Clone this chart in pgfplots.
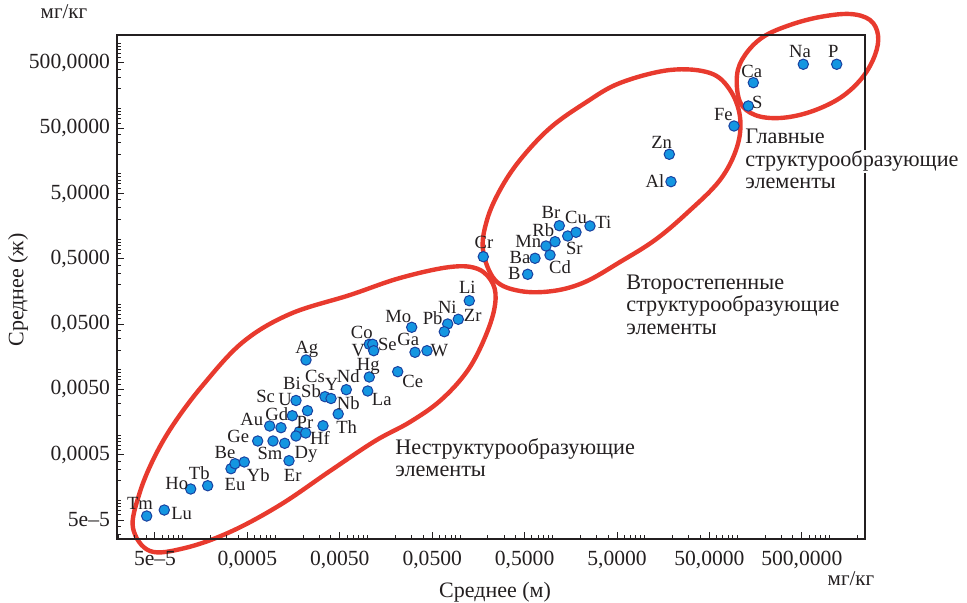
\documentclass[border=0pt]{standalone}
\usepackage{fontspec}
\setmainfont{Liberation Serif}
\usepackage{pgfplots}
\pgfplotsset{compat=1.18}
\definecolor{ered}{RGB}{232,58,46}
\definecolor{dotfill}{RGB}{20,150,225}
\definecolor{dotedge}{RGB}{25,65,160}
\definecolor{txt}{RGB}{35,31,32}

\pgfplotstableread{
el x y
Tm 4.066e-5 5.757e-5
Lu 6.30e-5 7.11e-5
Ho 1.217e-4 1.492e-4
Tb 1.859e-4 1.676e-4
Eu 3.323e-4 3.052e-4
Be 3.671e-4 3.641e-4
Yb 4.629e-4 3.866e-4
Ge 6.464e-4 8.107e-4
Sm 9.465e-4 8.107e-4
Dy 1.267e-3 7.473e-4
Er 1.410e-3 4.047e-4
Au 8.715e-4 1.375e-3
Gd 1.155e-3 1.296e-3
Sc 1.531e-3 1.978e-3
U 1.679e-3 3.381e-3
Sb 2.236e-3 2.359e-3
Pr 1.822e-3 1.125e-3
Hf 2.138e-3 1.075e-3
Bi 1.679e-3 9.670e-4
Ag 2.154e-3 1.410e-2
Th 3.290e-3 1.390e-3
Cs 3.458e-3 3.866e-3
Y 4.017e-3 3.627e-3
Nb 4.805e-3 2.101e-3
Nd 5.879e-3 4.948e-3
La 1.002e-2 4.726e-3
Hg 1.043e-2 7.743e-3
Co 1.043e-2 2.453e-2
Se 1.135e-2 2.453e-2
V 1.164e-2 1.957e-2
Ce 2.117e-2 9.333e-3
Mo 3.000e-2 4.467e-2
Ga 3.258e-2 1.850e-2
W 4.391e-2 1.957e-2
Pb 7.356e-2 5.018e-2
Ni 6.760e-2 3.825e-2
Zr 9.583e-2 5.923e-2
Li 0.1260 0.1141
Cr 0.1786 0.5385
B 0.5401 0.2894
Ba 0.6480 0.5090
Mn 0.8522 0.7852
Rb 1.067 0.9139
Cd 0.9417 0.5717
Br 1.187 1.607
Sr 1.464 1.117
Cu 1.800 1.273
Ti 2.551 1.590
Zn 18.41 19.92
Al 19.20 7.58
Fe 92.3 54.0
S 131.8 109.4
Ca 149.3 248.8
Na 519 476
P 1193 476
}\elements

\begin{document}
\begin{tikzpicture}
% ellipses (pixel coordinates)
\begin{scope}[x=0.5pt,y=-0.5pt,line width=2.2pt,ered]
\draw plot[smooth cycle,tension=0.6] coordinates {(133,528) (139,495) (153,460) (173,425) (203,385) (243,342) (290,314) (350,295) (400,278) (450,267) (478,269) (493,284) (495,305) (486,335) (468,370) (441,400) (410,422) (375,441) (330,471) (280,505) (230,532) (185,548) (150,551)};
\draw plot[smooth cycle,tension=0.6] coordinates {(483,250) (487,220) (500,190) (520,160) (550,128) (585,103) (620,83) (670,70) (710,73) (730,90) (740,117) (737,147) (720,180) (687,213) (655,240) (620,262) (585,282) (553,291) (520,291) (495,280)};
\draw plot[smooth cycle,tension=0.6] coordinates {(737,75) (745,55) (763,37) (790,25) (820,17) (850,14) (870,20) (878,35) (875,55) (862,78) (840,98) (810,112) (780,118) (755,115) (740,102)};
\end{scope}

\begin{axis}[
  at={(58.5pt,-269.5pt)}, anchor=south west,
  scale only axis, width=374pt, height=252pt,
  xmode=log, ymode=log,
  xmin=1.94e-5, xmax=2415, ymin=2.559e-5, ymax=1336,
  axis line style={line width=0.9pt, color=txt},
  tick align=inside, xtick pos=bottom, ytick pos=left,
  major tick length=3.5pt, minor tick length=2pt,
  tick style={line width=0.5pt, color=txt},
  every tick/.style={line width=0.5pt, color=txt},
  xtick={5e-5,5e-4,5e-3,5e-2,0.5,5,50,500},
  ytick={5e-5,5e-4,5e-3,5e-2,0.5,5,50,500},
  xticklabels={\textrm{5e–5},\textrm{0,0005},\textrm{0,0050},\textrm{0,0500},\textrm{0,5000},\textrm{5,0000},\textrm{50,0000},\textrm{500,0000}},
  yticklabels={\textrm{5e–5},\textrm{0,0005},\textrm{0,0050},\textrm{0,0500},\textrm{0,5000},\textrm{5,0000},\textrm{50,0000},\textrm{500,0000}},
  minor xtick={1e-5,2e-5,3e-5,4e-5,6e-5,7e-5,8e-5,9e-5,1e-4,2e-4,3e-4,4e-4,6e-4,7e-4,8e-4,9e-4,1e-3,2e-3,3e-3,4e-3,6e-3,7e-3,8e-3,9e-3,1e-2,2e-2,3e-2,4e-2,6e-2,7e-2,8e-2,9e-2,0.1,0.2,0.3,0.4,0.6,0.7,0.8,0.9,1,2,3,4,6,7,8,9,10,20,30,40,60,70,80,90,100,200,300,400,600,700,800,900,1000,2000},
  minor ytick={3e-5,4e-5,6e-5,7e-5,8e-5,9e-5,1e-4,2e-4,3e-4,4e-4,6e-4,7e-4,8e-4,9e-4,1e-3,2e-3,3e-3,4e-3,6e-3,7e-3,8e-3,9e-3,1e-2,2e-2,3e-2,4e-2,6e-2,7e-2,8e-2,9e-2,0.1,0.2,0.3,0.4,0.6,0.7,0.8,0.9,1,2,3,4,6,7,8,9,10,20,30,40,60,70,80,90,100,200,300,400,600,700,800,900,1000},
  ticklabel style={font=\fontsize{10.8}{12}\selectfont, text=txt},
  xticklabel style={yshift=-2.5pt},
]
\addplot[only marks, mark=*, mark size=2.6pt,
  mark options={fill=dotfill, draw=dotedge, line width=0.5pt}]
  table[x=x,y=y] {\elements};
\end{axis}

\begin{scope}[x=0.5pt,y=-0.5pt,
  lbl/.style={anchor=base, inner sep=0pt, text=txt, font=\fontsize{9.3}{10}\selectfont},
  ann/.style={anchor=base west, inner sep=0pt, text=txt, fill=white, text height=8pt, text depth=3.3pt, font=\fontsize{11.1}{11.3}\selectfont}]
\node[lbl] at (140,509) {Tm};
\node[lbl] at (181.7,519) {Lu};
\node[lbl] at (176.7,489) {Ho};
\node[lbl] at (199.3,479) {Tb};
\node[lbl] at (235,490) {Eu};
\node[lbl] at (225,458) {Be};
\node[lbl] at (258.3,481) {Yb};
\node[lbl] at (238.3,442) {Ge};
\node[lbl] at (270,459) {Sm};
\node[lbl] at (292.7,481) {Er};
\node[lbl] at (306,458) {Dy};
\node[lbl] at (320,444) {Hf};
\node[lbl] at (305,428) {Pr};
\node[lbl] at (251.7,425) {Au};
\node[lbl] at (276.7,420) {Gd};
\node[lbl] at (265.7,402) {Sc};
\node[lbl] at (285,405) {U};
\node[lbl] at (292,390) {Bi};
\node[lbl] at (311,398) {Sb};
\node[lbl] at (315,383) {Cs};
\node[lbl] at (331.7,391) {Y};
\node[lbl] at (348.3,382) {Nd};
\node[lbl] at (348.3,409) {Nb};
\node[lbl] at (346.7,433) {Th};
\node[lbl] at (306.7,354) {Ag};
\node[lbl] at (368.3,371) {Hg};
\node[lbl] at (381.7,405) {La};
\node[lbl] at (361.7,339) {Co};
\node[lbl] at (358.3,357) {V};
\node[lbl] at (387.3,351) {Se};
\node[lbl] at (408.3,346) {Ga};
\node[lbl] at (398.3,323) {Mo};
\node[lbl] at (439.3,357) {W};
\node[lbl] at (412.7,387) {Ce};
\node[lbl] at (432.7,325) {Pb};
\node[lbl] at (447.3,314) {Ni};
\node[lbl] at (472.7,322) {Zr};
\node[lbl] at (467.3,294) {Li};
\node[lbl] at (484,249) {Cr};
\node[lbl] at (514.3,280) {B};
\node[lbl] at (520,264) {Ba};
\node[lbl] at (528.3,248) {Mn};
\node[lbl] at (543.3,237) {Rb};
\node[lbl] at (560,274) {Cd};
\node[lbl] at (551,219) {Br};
\node[lbl] at (576,224) {Cu};
\node[lbl] at (574.3,255) {Sr};
\node[lbl] at (603.3,229) {Ti};
\node[lbl] at (661.7,149) {Zn};
\node[lbl] at (655,188) {Al};
\node[lbl] at (723.3,121) {Fe};
\node[lbl] at (757.3,109) {S};
\node[lbl] at (751.7,78) {Ca};
\node[lbl] at (800,58) {Na};
\node[lbl] at (833.3,58) {P};
% annotations
\node[ann] at (745,144) {Главные};
\node[ann] at (745,166.5) {структурообразующие};
\node[ann] at (745,189) {элементы};
\node[ann] at (626,289.5) {Второстепенные};
\node[ann] at (626,312) {структурообразующие};
\node[ann] at (626,334.5) {элементы};
\node[ann] at (395,454) {Неструктурообразующие};
\node[ann] at (395,476.5) {элементы};
% axis labels and units
\node[anchor=base, inner sep=0pt, text=txt, font=\fontsize{11}{13}\selectfont] at (495,597) {Среднее (м)};
\node[anchor=center, inner sep=0pt, text=txt, rotate=90, font=\fontsize{11}{13}\selectfont] at (18,290) {Среднее (ж)};
\node[anchor=base, inner sep=0pt, text=txt, font=\fontsize{10.5}{12}\selectfont] at (851,585) {мг/кг};
\node[anchor=base, inner sep=0pt, text=txt, font=\fontsize{10.5}{12}\selectfont] at (64,19) {мг/кг};
\end{scope}
\pgfresetboundingbox
\path[use as bounding box] (0,0) rectangle (483.5pt,-301.5pt);
\end{tikzpicture}
\end{document}
